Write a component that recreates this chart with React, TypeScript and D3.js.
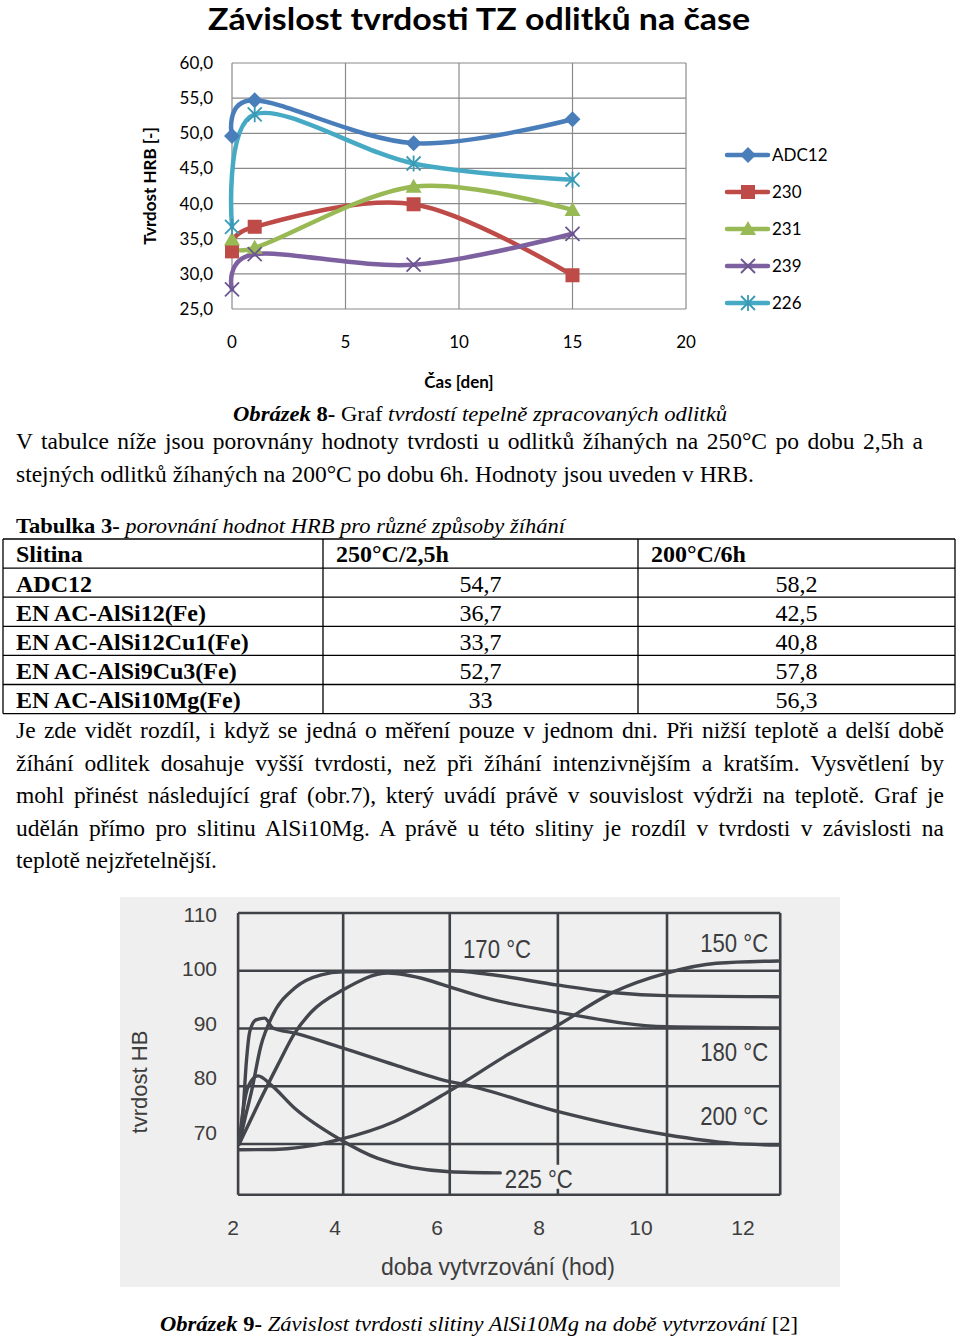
import React, { useLayoutEffect, useRef } from "react";
import * as d3 from "d3";

// ---------- Top chart data ----------
const days = [0, 1, 8, 15];
const seriesNames = ["ADC12", "230", "231", "239", "226"];
const adc12 = [49.6, 54.7, 48.6, 52.0];
const s230 = [33.2, 36.7, 39.9, 29.8];
const s231 = [34.9, 33.7, 42.4, 39.1];
const s239 = [27.8, 32.8, 31.3, 35.7];
const s226 = [36.7, 52.7, 45.7, 43.4];
const seriesValues = [adc12, s230, s231, s239, s226];
const seriesColors = ["#4A7EBB", "#BE4B48", "#98B954", "#7D60A0", "#46AAC5"];
const markerColors = ["#4A7EBB", "#BE4B48", "#98B954", "#6a5590", "#3a9ab5"];
const seriesMarkers = ["diamond", "square", "triangle", "x", "star"];
const yTicksTop = [60, 55, 50, 45, 40, 35, 30, 25];
const xTicksTop = [0, 5, 10, 15, 20];

// ---------- Table data ----------
const tableHeader = ["Slitina", "250°C/2,5h", "200°C/6h"];
const alloys = ["ADC12", "EN AC-AlSi12(Fe)", "EN AC-AlSi12Cu1(Fe)", "EN AC-AlSi9Cu3(Fe)", "EN AC-AlSi10Mg(Fe)"];
const hrb250 = ["54,7", "36,7", "33,7", "52,7", "33"];
const hrb200 = ["58,2", "42,5", "40,8", "57,8", "56,3"];

// ---------- Bottom (scanned) chart data ----------
const c150: [number, number][] = [[2.12, 69.0], [2.9, 69.1], [3.6, 69.8], [4.06, 70.7], [5.17, 73.9], [6.25, 79.2], [7.3, 85.0], [8.38, 90.6], [9.46, 96.3], [10.5, 99.6], [11.48, 101.3], [12.69, 101.7]];
const c170: [number, number][] = [[2.12, 70], [2.25, 75], [2.36, 79], [2.55, 87.1], [2.75, 91.8], [3.21, 97], [3.73, 99.3], [4.16, 99.8], [5.2, 99.9], [6.25, 100], [7.0, 99.4], [8.38, 97.5], [9.5, 96.2], [10.5, 95.7], [12.69, 95.5]];
const c180: [number, number][] = [[2.12, 70], [2.5, 77], [2.88, 83.7], [3.21, 89.2], [3.54, 92.9], [4.16, 96.7], [5.04, 99.6], [5.82, 98.4], [6.25, 97.2], [7.0, 95.2], [8.38, 92.8], [10.5, 90.3], [12.69, 90.1]];
const c200: [number, number][] = [[2.12, 70], [2.2, 76], [2.26, 84], [2.33, 89.5], [2.45, 91.5], [2.62, 91.8], [2.78, 90.1], [3.21, 89.2], [4.16, 86.6], [5.17, 83.7], [6.25, 80.8], [6.58, 80.2], [8.38, 75.6], [10.5, 71.6], [11.8, 70.1], [12.69, 69.8]];
const c225: [number, number][] = [[2.12, 70], [2.2, 76], [2.3, 80], [2.49, 81.8], [2.75, 80.2], [3.21, 76.2], [4.06, 71], [4.84, 67.5], [6.25, 65.2], [7.24, 65.0]];
const scanCurves = [c150, c170, c180, c200, c225];
const scanXTicks = [2, 4, 6, 8, 10, 12];
const scanYTicks = [110, 100, 90, 80, 70];
const scanGridX = [2.1, 4.16, 6.25, 8.37, 10.51, 12.73];
const scanGridY = [110, 100, 90, 80, 70, 61.2];
const tempLabels = ["170 °C", "150 °C", "180 °C", "200 °C", "225 °C"];
const tempLabelX = [6.51, 11.16, 11.16, 11.16, 7.33];
const tempLabelV = [102.2, 103.2, 84.4, 73.3, 62.4];

// ---------- Text ----------
const para1 = [
  "V tabulce níže jsou porovnány hodnoty tvrdosti u odlitků žíhaných na 250°C po dobu 2,5h a",
  "stejných odlitků žíhaných na 200°C po dobu 6h. Hodnoty jsou uveden v HRB.",
];
const para2 = [
  "Je zde vidět rozdíl, i když se jedná o měření pouze v jednom dni. Při nižší teplotě a delší době",
  "žíhání odlitek dosahuje vyšší tvrdosti, než při žíhání intenzivnějším a kratším. Vysvětlení by",
  "mohl přinést následující graf (obr.7), který uvádí právě v souvislost výdrži na teplotě. Graf je",
  "udělán přímo pro slitinu AlSi10Mg. A právě u této slitiny je rozdíl v tvrdosti v závislosti na",
  "teplotě nejzřetelnější.",
];

const SERIF = "'Liberation Serif', 'Times New Roman', serif";
const CAL = "Lato, 'Open Sans', sans-serif";
const ARIAL = "'Liberation Sans', Arial, sans-serif";

function JLine({ x, y, width, text, justify }: { x: number; y: number; width: number; text: string; justify: boolean }) {
  const ref = useRef<SVGTextElement>(null);
  useLayoutEffect(() => {
    const el = ref.current;
    if (!el || !justify) return;
    el.style.wordSpacing = "0px";
    const w = el.getComputedTextLength();
    const n = (text.match(/ /g) || []).length;
    if (n > 0) el.style.wordSpacing = (width - w) / n + "px";
  }, [text, width, justify]);
  return (
    <text ref={ref} x={x} y={y} fontFamily={SERIF} fontSize={23.5} fill="#000">
      {text}
    </text>
  );
}

function Marker({ kind, color, x, y }: { kind: string; color: string; x: number; y: number }) {
  const t = `translate(${x},${y})`;
  if (kind === "diamond") return <path transform={t} d="M0,-8L8,0L0,8L-8,0Z" fill={color} />;
  if (kind === "square") return <rect x={x - 7} y={y - 7} width={14} height={14} fill={color} />;
  if (kind === "triangle") return <path transform={t} d="M0,-8L8,6L-8,6Z" fill={color} />;
  if (kind === "x")
    return <path transform={t} d="M-7,-7L7,7M7,-7L-7,7" stroke={color} strokeWidth={1.8} fill="none" />;
  return <path transform={t} d="M-7,-7L7,7M7,-7L-7,7M0,-8L0,8" stroke={color} strokeWidth={1.8} fill="none" />;
}

export default function App() {
  // top chart scales
  const xT = d3.scaleLinear().domain([0, 20]).range([232, 686]);
  const yT = d3.scaleLinear().domain([25, 60]).range([309, 63]);
  const lineT = d3
    .line<number>()
    .x((_, i) => xT(days[i]))
    .y((d) => yT(d))
    .curve(d3.curveCardinal.tension(0));

  // scan chart scales
  const xS = d3.scaleLinear().domain([2, 12]).range([233, 743]);
  const yS = d3.scaleLinear().domain([70, 110]).range([1144, 913]);
  const yLab = d3.scaleLinear().domain([70, 110]).range([1132.5, 914]);
  const lineS = d3
    .line<[number, number]>()
    .x((d) => xS(d[0]))
    .y((d) => yS(d[1]))
    .curve(d3.curveMonotoneX);

  const legendY = d3.scaleLinear().domain([0, 4]).range([155, 303]);

  const rowTop = 539;
  const rowH = 29.1;
  const colX = [3, 323, 638, 955];

  return (
    <svg width={960} height={1338} style={{ position: "absolute", left: 0, top: 0, background: "#fff" }}>
      <rect x={0} y={0} width={960} height={1338} fill="#fff" />
      {/* ---------- Top chart ---------- */}
      <text x={479} y={30} textAnchor="middle" fontFamily={CAL} fontWeight="bold" fontSize={30} textLength={542} lengthAdjust="spacingAndGlyphs">
        Závislost tvrdosti TZ odlitků na čase
      </text>
      {yTicksTop.map((v) => (
        <line key={"gy" + v} x1={232} x2={686} y1={yT(v)} y2={yT(v)} stroke="#8a8a8a" strokeWidth={1.2} />
      ))}
      {xTicksTop.map((v) => (
        <line key={"gx" + v} x1={xT(v)} x2={xT(v)} y1={63} y2={309} stroke="#8a8a8a" strokeWidth={1.2} />
      ))}
      {yTicksTop.map((v) => (
        <text key={"ty" + v} x={213} y={yT(v) + 6} textAnchor="end" fontFamily={CAL} fontSize={17}>
          {v.toFixed(1).replace(".", ",")}
        </text>
      ))}
      {xTicksTop.map((v) => (
        <text key={"tx" + v} x={xT(v)} y={348} textAnchor="middle" fontFamily={CAL} fontSize={17}>
          {v}
        </text>
      ))}
      <text x={459} y={388} textAnchor="middle" fontFamily={CAL} fontWeight="bold" fontSize={17}>
        Čas [den]
      </text>
      <text transform="translate(156,186) rotate(-90)" textAnchor="middle" fontFamily={CAL} fontWeight="bold" fontSize={17}>
        Tvrdost HRB [-]
      </text>
      {seriesValues.map((vals, si) => (
        <path key={"l" + si} d={lineT(vals) || ""} fill="none" stroke={seriesColors[si]} strokeWidth={4.5} strokeLinejoin="round" strokeLinecap="round" />
      ))}
      {seriesValues.map((vals, si) =>
        vals.map((v, i) => <Marker key={"m" + si + "-" + i} kind={seriesMarkers[si]} color={markerColors[si]} x={xT(days[i])} y={yT(v)} />)
      )}
      {seriesNames.map((n, si) => (
        <g key={"lg" + n}>
          <line x1={727} x2={768} y1={legendY(si)} y2={legendY(si)} stroke={seriesColors[si]} strokeWidth={4.5} strokeLinecap="round" />
          <Marker kind={seriesMarkers[si]} color={markerColors[si]} x={748} y={legendY(si)} />
          <text x={772} y={legendY(si) + 6} fontFamily={CAL} fontSize={17}>
            {n}
          </text>
        </g>
      ))}

      {/* ---------- Caption 8 & paragraph ---------- */}
      <text x={233} y={421} fontFamily={SERIF} fontSize={21} textLength={494} lengthAdjust="spacingAndGlyphs">
        <tspan fontWeight="bold" fontStyle="italic">Obrázek</tspan>
        <tspan fontWeight="bold"> 8-</tspan>
        <tspan> Graf </tspan>
        <tspan fontStyle="italic">tvrdostí tepelně zpracovaných odlitků</tspan>
      </text>
      {para1.map((t, i) => (
        <JLine key={"p1" + i} x={16} y={449 + i * 32.5} width={907} text={t} justify={i === 0} />
      ))}
      <text x={16} y={533} fontFamily={SERIF} fontSize={21} textLength={549} lengthAdjust="spacingAndGlyphs">
        <tspan fontWeight="bold">Tabulka 3-</tspan>
        <tspan fontStyle="italic"> porovnání hodnot HRB pro různé způsoby žíhání</tspan>
      </text>

      {/* ---------- Table ---------- */}
      {d3.range(alloys.length + 2).map((i) => (
        <line key={"tr" + i} x1={colX[0]} x2={colX[3]} y1={rowTop + i * rowH} y2={rowTop + i * rowH} stroke="#000" strokeWidth={1.3} />
      ))}
      {colX.map((cx, i) => (
        <line key={"tc" + i} x1={cx} x2={cx} y1={rowTop} y2={rowTop + (alloys.length + 1) * rowH} stroke="#000" strokeWidth={1.3} />
      ))}
      {tableHeader.map((h, i) => (
        <text key={"th" + i} x={colX[i] + 13} y={rowTop + 23} fontFamily={SERIF} fontWeight="bold" fontSize={24}>
          {h}
        </text>
      ))}
      {alloys.map((a, r) => (
        <g key={"row" + r}>
          <text x={16} y={rowTop + (r + 1) * rowH + 23.5} fontFamily={SERIF} fontWeight="bold" fontSize={24}>
            {a}
          </text>
          <text x={(colX[1] + colX[2]) / 2} y={rowTop + (r + 1) * rowH + 23.5} textAnchor="middle" fontFamily={SERIF} fontSize={24}>
            {hrb250[r]}
          </text>
          <text x={(colX[2] + colX[3]) / 2} y={rowTop + (r + 1) * rowH + 23.5} textAnchor="middle" fontFamily={SERIF} fontSize={24}>
            {hrb200[r]}
          </text>
        </g>
      ))}
      {para2.map((t, i) => (
        <JLine key={"p2" + i} x={16} y={738 + i * 32.5} width={928} text={t} justify={i < para2.length - 1} />
      ))}

      {/* ---------- Scanned chart ---------- */}
      <rect x={120} y={897} width={720} height={390} fill="#efefef" />
      {scanGridY.map((v, i) => (
        <line key={"sgy" + i} x1={xS(scanGridX[0])} x2={xS(scanGridX[scanGridX.length - 1])} y1={yS(v)} y2={yS(v)} stroke="#3f4247" strokeWidth={2.6} />
      ))}
      {scanGridX.map((v, i) => (
        <line key={"sgx" + i} x1={xS(v)} x2={xS(v)} y1={yS(110)} y2={yS(61.2)} stroke="#3f4247" strokeWidth={2.6} />
      ))}
      {scanCurves.map((c, i) => (
        <path key={"sc" + i} d={lineS(c) || ""} fill="none" stroke="#43464c" strokeWidth={3.4} strokeLinecap="round" />
      ))}
      <rect x={xS(7.35)} y={yS(66.4)} width={76} height={24} fill="#efefef" />
      {scanYTicks.map((v) => (
        <text key={"sty" + v} x={217} y={yLab(v) + 7.5} textAnchor="end" fontFamily={ARIAL} fontSize={21} fill="#3d3d3d">
          {v}
        </text>
      ))}
      {scanXTicks.map((v) => (
        <text key={"stx" + v} x={xS(v)} y={1235} textAnchor="middle" fontFamily={ARIAL} fontSize={21} fill="#3d3d3d">
          {v}
        </text>
      ))}
      {tempLabels.map((t, i) => (
        <text key={"tl" + i} x={xS(tempLabelX[i])} y={yS(tempLabelV[i])} fontFamily={ARIAL} fontSize={25} fill="#3a3c40" textLength={68} lengthAdjust="spacingAndGlyphs">
          {t}
        </text>
      ))}
      <text transform="translate(147,1082) rotate(-90)" textAnchor="middle" fontFamily={ARIAL} fontSize={22} fill="#3d3d3d" textLength={103} lengthAdjust="spacingAndGlyphs">
        tvrdost HB
      </text>
      <text x={381} y={1275} fontFamily={ARIAL} fontSize={23} fill="#3d3d3d" textLength={234} lengthAdjust="spacingAndGlyphs">
        doba vytvrzování (hod)
      </text>

      {/* ---------- Caption 9 ---------- */}
      <text x={160} y={1331} fontFamily={SERIF} fontSize={21} textLength={638} lengthAdjust="spacingAndGlyphs">
        <tspan fontWeight="bold" fontStyle="italic">Obrázek</tspan>
        <tspan fontWeight="bold"> 9-</tspan>
        <tspan fontStyle="italic"> Závislost tvrdosti slitiny AlSi10Mg na době vytvrzování</tspan>
        <tspan> [2]</tspan>
      </text>
    </svg>
  );
}
